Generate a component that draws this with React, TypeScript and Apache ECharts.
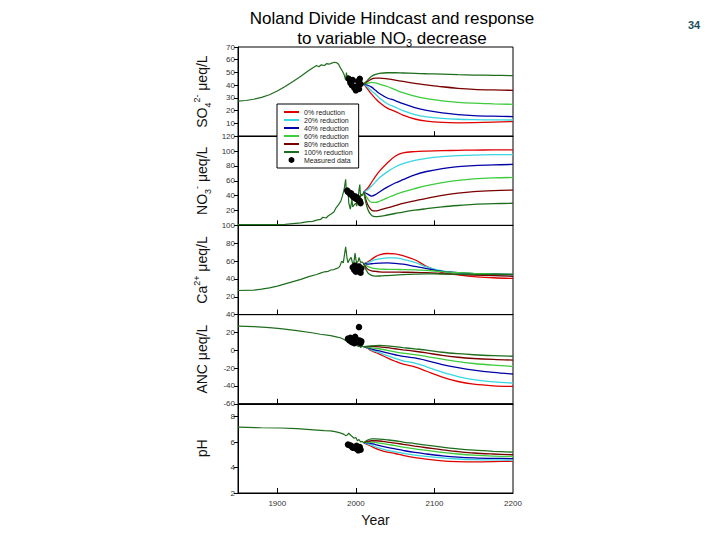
import React, { useEffect, useRef } from 'react';
import * as echarts from 'echarts';

const FONT = '"Liberation Sans", Arial, sans-serif';

// scenario names and colours (legend order)
const SCENARIOS = ['0% reduction', '20% reduction', '40% reduction', '60% reduction', '80% reduction', '100% reduction'];
const SCENARIO_COLORS = ['#e00000', '#38d6e0', '#0000a8', '#3ccc3c', '#7a0000', '#1e6e1e'];
const HINDCAST_COLOR = '#1e6e1e';

// years of the forecast part (same for every panel)
const FUTURE_YEARS = [2010, 2015, 2020, 2025, 2030, 2040, 2050, 2060, 2075, 2090, 2110, 2130, 2150, 2175, 2200];

// ---- SO4 ----
const so4HindYears = [1850, 1860, 1870, 1880, 1890, 1900, 1910, 1920, 1930, 1940, 1945, 1950, 1953, 1956, 1960, 1963, 1966, 1970, 1973, 1976, 1978, 1980, 1983, 1985, 1987, 1988, 1989, 1990, 1992, 1994, 1996, 1998, 2000, 2002, 2004, 2006, 2008, 2010];
const so4HindValues = [27.5, 28, 29, 30.5, 32.5, 35.5, 39, 43, 47, 51.5, 53.5, 55.5, 54.5, 56, 55.5, 57, 56.5, 57.5, 58, 57.5, 56.5, 54, 51, 48.5, 44, 50, 45, 48, 43, 46, 44, 45, 43, 44, 41.5, 42, 40.5, 41];
const so4Scenarios = [
  [41, 37, 33, 29.5, 26.5, 22, 19.5, 16.5, 13.5, 11.8, 10.8, 10.5, 10.6, 11, 11.5],
  [41, 38.5, 35.5, 33, 30, 25.5, 22.8, 20, 17, 15.2, 14, 13.3, 13, 12.8, 12.7],
  [41, 40, 38.5, 36, 33.5, 30, 28, 25.5, 22.5, 20.3, 18.3, 17, 16.2, 15.7, 15.4],
  [41, 41.5, 42.2, 41.8, 40.8, 39, 36.5, 34.2, 31.5, 29.5, 27.8, 26.6, 25.9, 25.4, 25],
  [41, 43, 44.8, 45.5, 45.6, 45, 44, 43, 41.5, 40.3, 38.8, 37.6, 36.8, 36.3, 36],
  [41, 44, 47, 48.5, 49.3, 49.8, 49.8, 49.6, 49.3, 49, 48.7, 48.3, 48, 47.8, 47.5],
];
const so4MeasYears = [1991, 1993, 1995, 1996, 1998, 2000, 2001, 2003, 2004, 2005, 2006];
const so4MeasValues = [45, 42, 40, 44, 38, 36, 39, 43, 37, 45, 41];

// ---- NO3 ----
const no3HindYears = [1850, 1880, 1900, 1910, 1920, 1930, 1935, 1940, 1945, 1950, 1955, 1958, 1962, 1965, 1968, 1972, 1975, 1978, 1981, 1983, 1985, 1987, 1988, 1990, 1991, 1993, 1995, 1996, 1998, 2000, 2001, 2003, 2004, 2005, 2006, 2007, 2008, 2010];
const no3HindValues = [1, 1, 1, 1.5, 2.5, 3.5, 4.5, 5, 5.5, 7, 8, 11, 10, 13, 15, 18, 24, 28, 33, 40, 48, 62, 45, 50, 30, 22, 35, 25, 28, 30, 26, 38, 48, 55, 38, 42, 40, 45];
const no3Scenarios = [
  [45, 50, 58, 66, 73, 84, 93, 97.5, 99.3, 100, 100.5, 101, 101.3, 101.5, 101.6],
  [45, 48, 53, 58.5, 64, 72, 78.5, 83, 87.5, 90.3, 92.5, 93.8, 94.6, 95.1, 95.3],
  [45, 42, 39.5, 41.5, 45, 51.5, 57, 61.5, 68, 72.5, 76.5, 79, 80.5, 81.5, 82],
  [45, 36, 31, 31, 32.5, 37, 41.5, 45, 49.5, 53.5, 57.5, 60.5, 62.5, 63.8, 64.5],
  [45, 28, 20.5, 19.5, 20.5, 23.5, 26.5, 29.5, 33, 36.5, 40.5, 43.5, 45.5, 46.8, 47.5],
  [45, 22, 13.5, 11.7, 12, 14, 16, 18, 20.5, 22.5, 25, 26.8, 28.2, 29.2, 29.8],
];
const no3MeasYears = [1989, 1990, 1992, 1993, 1994, 1996, 1997, 1999, 2000, 2002, 2003, 2005, 2006];
const no3MeasValues = [47, 45, 44, 42, 43, 40, 38, 39, 36, 37, 34, 33, 30];

// ---- Ca ----
const caHindYears = [1850, 1870, 1880, 1890, 1900, 1910, 1920, 1930, 1940, 1950, 1955, 1960, 1965, 1968, 1972, 1975, 1978, 1980, 1982, 1984, 1987, 1989, 1990, 1992, 1994, 1996, 1997, 1999, 2000, 2001, 2003, 2004, 2006, 2008, 2010];
const caHindValues = [27, 27.5, 28.5, 30, 32, 34.5, 37, 39.5, 42.5, 45, 46.5, 48, 48.5, 50, 50.5, 51.5, 52.5, 55, 60, 58, 76, 62, 58, 62, 64, 57, 55, 69, 62, 58, 60, 64, 58.5, 59, 57];
const caScenarios = [
  [57, 59, 62, 65, 67, 68.5, 68, 66, 61.5, 54, 47, 44.5, 42.5, 41.3, 40.5],
  [57, 58, 60, 61.5, 62.5, 63.5, 63.5, 62, 58.5, 53.5, 49, 46.5, 45, 44, 43.3],
  [57, 56.5, 57, 57.5, 57.8, 58, 57.5, 56.5, 54, 51.5, 48.5, 47, 46, 45.5, 45],
  [57, 54, 52.5, 51.5, 51, 50.8, 50.6, 50.5, 50.2, 49.5, 48.2, 47, 46.2, 45.5, 45],
  [57, 51, 49, 48.5, 48, 47.7, 47.6, 47.5, 47.4, 47, 46, 45, 44.3, 43.6, 43],
  [57, 47, 44, 43.2, 43.3, 43.8, 44.3, 44.8, 45.3, 45.6, 45.5, 45.3, 45.2, 45, 45],
];
const caMeasYears = [1996, 1998, 1999, 2000, 2001, 2003, 2004, 2005, 2006, 2007];
const caMeasValues = [53, 50, 55, 48, 52, 49, 54, 51, 47, 52];

// ---- ANC ----
const ancHindYears = [1850, 1870, 1890, 1904, 1925, 1946, 1955, 1968, 1975, 1981, 1985, 1989, 1991, 1993, 1995, 1997, 1999, 2001, 2003, 2005, 2006, 2008, 2010];
const ancHindValues = [27, 26.5, 25.5, 24.3, 22, 19.4, 18, 16.4, 15, 13.8, 12, 10, 8, 9, 6.4, 7, 5, 6, 4, 5, 3, 4.5, 4];
const ancScenarios = [
  [4, 2, -0.5, -2.5, -4.3, -8.5, -12.3, -15.5, -18.5, -23.5, -30, -35, -38, -39.8, -40.5],
  [4, 2.5, 0.5, -1.2, -2.7, -6, -9, -11.8, -14.3, -18.5, -24.5, -29.5, -33, -35.5, -36.7],
  [4, 3, 1.5, 0.3, -0.8, -3, -5, -6.8, -8.6, -11.5, -16, -19.5, -22.3, -24.8, -26.6],
  [4, 3.5, 2.8, 2.2, 1.7, 0, -1.7, -3.2, -4.8, -7, -10, -12.8, -14.8, -16.6, -18],
  [4, 4.2, 4.3, 4.2, 3.9, 3, 1.7, 0.5, -1.1, -3, -5.8, -7.8, -9.2, -10.3, -11],
  [4, 4.5, 5, 5.3, 5.4, 5, 4, 3, 1.6, 0.2, -2.2, -3.8, -5, -6, -6.7],
];
const ancMeasYears = [1990, 1992, 1993, 1995, 1996, 1998, 1999, 2000, 2001, 2003, 2004, 2005, 2006, 2007];
const ancMeasValues = [13, 11, 14, 9, 12, 8, 15, 10, 12, 9, 26, 11, 8, 10];

// ---- pH ----
const phHindYears = [1850, 1880, 1904, 1925, 1946, 1960, 1968, 1975, 1981, 1985, 1987, 1989, 1991, 1993, 1996, 1998, 2000, 2002, 2004, 2006, 2008, 2010];
const phHindValues = [7.17, 7.12, 7.1, 7.05, 6.96, 6.9, 6.88, 6.8, 6.7, 6.6, 6.5, 6.55, 6.7, 6.55, 6.4, 6.3, 6.35, 6.1, 6.2, 6.0, 6.05, 5.95];
const phScenarios = [
  [5.95, 5.8, 5.65, 5.5, 5.38, 5.2, 5.1, 4.95, 4.78, 4.66, 4.52, 4.46, 4.44, 4.46, 4.5],
  [5.95, 5.85, 5.75, 5.63, 5.52, 5.35, 5.23, 5.12, 4.98, 4.88, 4.76, 4.67, 4.62, 4.6, 4.58],
  [5.95, 5.93, 5.88, 5.8, 5.72, 5.58, 5.46, 5.34, 5.18, 5.06, 4.92, 4.82, 4.76, 4.72, 4.7],
  [5.95, 6.0, 6.0, 5.97, 5.92, 5.82, 5.72, 5.6, 5.46, 5.34, 5.18, 5.06, 4.97, 4.9, 4.86],
  [5.95, 6.05, 6.1, 6.1, 6.08, 6.0, 5.92, 5.82, 5.68, 5.55, 5.38, 5.25, 5.14, 5.06, 5.0],
  [5.95, 6.15, 6.24, 6.25, 6.23, 6.17, 6.1, 6.0, 5.88, 5.75, 5.6, 5.46, 5.36, 5.27, 5.2],
];
const phMeasYears = [1990, 1992, 1994, 1996, 1998, 2000, 2001, 2003, 2004, 2005, 2006];
const phMeasValues = [5.8, 5.75, 5.7, 5.55, 5.6, 5.5, 5.7, 5.35, 5.45, 5.6, 5.4];

const zip = (xs: number[], ys: number[]) => xs.map((x, i) => [x, ys[i]]);

const nameRich = {
  m: { fontSize: 14, lineHeight: 20, fontFamily: FONT, color: '#111' },
  sb: { fontSize: 9, lineHeight: 9, verticalAlign: 'bottom', fontFamily: FONT, color: '#111' },
  sp: { fontSize: 9, lineHeight: 9, verticalAlign: 'top', fontFamily: FONT, color: '#111' },
};

const panels = [
  { name: '{m|SO}{sb|4}{sp|2-}{m| μeq/L}', min: 0, max: 70, interval: 10, hide: (v: number) => v === 0, hy: so4HindYears, hv: so4HindValues, sc: so4Scenarios, my: so4MeasYears, mv: so4MeasValues },
  { name: '{m|NO}{sb|3}{sp|-}{m| μeq/L}', min: 0, max: 120, interval: 20, hide: (v: number) => v === 0, hy: no3HindYears, hv: no3HindValues, sc: no3Scenarios, my: no3MeasYears, mv: no3MeasValues },
  { name: '{m|Ca}{sp|2+}{m| μeq/L}', min: 0, max: 100, interval: 20, hide: (v: number) => v === 0, hy: caHindYears, hv: caHindValues, sc: caScenarios, my: caMeasYears, mv: caMeasValues },
  { name: '{m|ANC μeq/L}', min: -60, max: 40, interval: 20, hide: (_v: number) => false, hy: ancHindYears, hv: ancHindValues, sc: ancScenarios, my: ancMeasYears, mv: ancMeasValues },
  { name: '{m|pH}', min: 2, max: 9, interval: 2, hide: (v: number) => v > 8.5, hy: phHindYears, hv: phHindValues, sc: phScenarios, my: phMeasYears, mv: phMeasValues },
];

const GRID_TOP = 47;
const GRID_H = 89.2;

const App: React.FC = () => {
  const chartRef = useRef<HTMLDivElement>(null);

  useEffect(() => {
    if (!chartRef.current) return;
    const chart = echarts.init(chartRef.current, undefined, { renderer: 'svg' });

    const grids = panels.map((_, i) => ({
      left: 238,
      width: 275,
      top: GRID_TOP + i * GRID_H,
      height: GRID_H,
      show: true,
      borderColor: '#000',
      borderWidth: 1,
      backgroundColor: 'transparent',
    }));

    const xAxes = panels.map((_, i) => ({
      type: 'value',
      gridIndex: i,
      min: 1850,
      max: 2200,
      splitLine: { show: false },
      axisLine: { show: true, onZero: false, lineStyle: { color: '#000', width: 1 } },
      axisTick: { show: true, inside: true, length: 5, customValues: [1900, 2000, 2100], lineStyle: { color: '#000' } },
      axisLabel: i === 4
        ? { show: true, customValues: [1900, 2000, 2100, 2200], fontSize: 8, color: '#333', margin: 6, fontFamily: FONT, formatter: (v: number) => String(v) }
        : { show: false },
      name: i === 4 ? 'Year' : '',
      nameLocation: 'middle',
      nameGap: 20,
      nameTextStyle: { fontSize: 14, color: '#111', fontFamily: FONT },
    }));

    const yAxes = panels.map((p, i) => ({
      type: 'value',
      gridIndex: i,
      min: p.min,
      max: p.max,
      interval: p.interval,
      splitLine: { show: false },
      axisLine: { show: true, onZero: false, lineStyle: { color: '#000', width: 1 } },
      axisTick: { show: true, length: 4, lineStyle: { color: '#000' } },
      axisLabel: {
        fontSize: 8,
        color: '#333',
        margin: 3,
        fontFamily: FONT,
        formatter: (v: number) => (p.hide(v) ? '' : String(v)),
      },
      name: p.name,
      nameLocation: 'middle',
      nameRotate: 90,
      nameGap: 26,
      nameTextStyle: { rich: nameRich },
    }));

    const series: any[] = [];
    panels.forEach((p, i) => {
      series.push({
        type: 'line',
        name: 'Hindcast',
        xAxisIndex: i,
        yAxisIndex: i,
        data: zip(p.hy, p.hv),
        symbol: 'none',
        lineStyle: { width: 1.2, color: HINDCAST_COLOR },
        itemStyle: { color: HINDCAST_COLOR },
        z: 3,
      });
      p.sc.forEach((vals, s) => {
        series.push({
          type: 'line',
          name: SCENARIOS[s],
          xAxisIndex: i,
          yAxisIndex: i,
          data: zip(FUTURE_YEARS, vals),
          smooth: 0.35,
          symbol: 'none',
          lineStyle: { width: 1.3, color: SCENARIO_COLORS[s] },
          itemStyle: { color: SCENARIO_COLORS[s] },
          z: 2,
        });
      });
      series.push({
        type: 'scatter',
        name: 'Measured data',
        xAxisIndex: i,
        yAxisIndex: i,
        data: zip(p.my, p.mv),
        symbol: 'circle',
        symbolSize: 6.5,
        itemStyle: { color: '#000', opacity: 1 },
        z: 4,
      });
    });

    chart.setOption({
      animation: false,
      title: [
        {
          text: '{t|Noland Divide Hindcast and response}\n{t|to variable NO}{s|3}{t| decrease}',
          left: 387,
          top: 3,
          textAlign: 'center',
          textStyle: {
            fontWeight: 'normal',
            rich: {
              t: { fontSize: 17, lineHeight: 20, fontWeight: 'normal', color: '#000', fontFamily: FONT },
              s: { fontSize: 11, lineHeight: 11, fontWeight: 'normal', verticalAlign: 'bottom', color: '#000', fontFamily: FONT },
            },
          },
        },
        {
          text: '34',
          left: 689,
          top: 14,
          textAlign: 'center',
          textStyle: { fontSize: 11, fontWeight: 'bold', color: '#1b4f5e', fontFamily: FONT },
        },
      ],
      legend: {
        data: [
          ...SCENARIOS.map((n) => ({ name: n, itemStyle: { opacity: 0 } })),
          { name: 'Measured data', icon: 'circle', itemStyle: { color: '#000', opacity: 1 } },
        ],
        orient: 'vertical',
        left: 277,
        top: 104,
        itemWidth: 15,
        itemHeight: 6,
        itemGap: 0,
        padding: [4, 6, 4, 6],
        backgroundColor: '#fff',
        borderColor: '#000',
        borderWidth: 1,
        selectedMode: false,
        z: 10,
        textStyle: { fontSize: 7, lineHeight: 8, color: '#222', fontFamily: FONT },
      },
      grid: grids,
      xAxis: xAxes,
      yAxis: yAxes,
      series,
    });

    return () => {
      chart.dispose();
    };
  }, []);

  return (
    <div
      ref={chartRef}
      style={{ position: 'absolute', left: 0, top: 0, width: '720px', height: '540px', background: '#fff' }}
    />
  );
};

export default App;
